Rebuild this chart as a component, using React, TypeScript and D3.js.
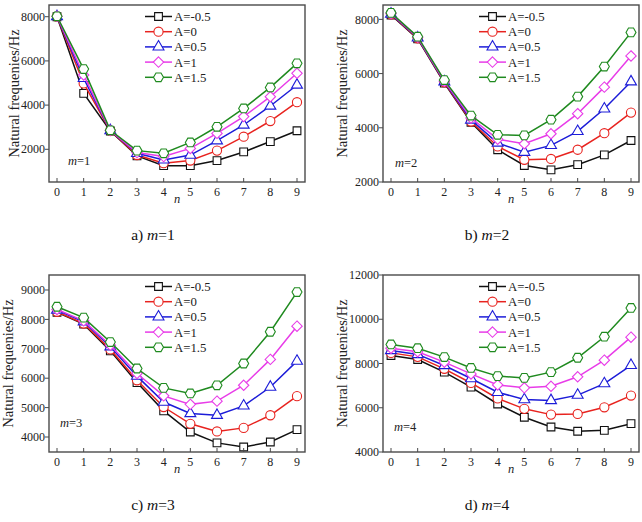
import React from "react";
import * as d3 from "d3";

// mode number n on the x axis
const nValues = [0, 1, 2, 3, 4, 5, 6, 7, 8, 9];
const seriesLabels = ["A=-0.5", "A=0", "A=0.5", "A=1", "A=1.5"];
const seriesColors = ["#111111", "#e8231f", "#1c1cd8", "#e83ce8", "#1f8a1f"];
const seriesShapes = ["square", "circle", "triangle", "diamond", "hexagon"];

// natural frequencies (Hz), one row per A value
const freqM1 = [
  [8000, 4530, 2830, 1700, 1260, 1260, 1490, 1880, 2350, 2840],
  [8000, 4980, 2840, 1740, 1370, 1490, 1940, 2570, 3280, 4130],
  [8010, 5210, 2850, 1820, 1520, 1740, 2390, 3100, 3960, 4910],
  [8020, 5360, 2850, 1850, 1670, 2040, 2720, 3480, 4380, 5440],
  [8020, 5630, 2860, 1940, 1820, 2310, 3020, 3850, 4800, 5890],
];
const freqM2 = [
  [8160, 7280, 5650, 4200, 3190, 2610, 2450, 2640, 3000, 3530],
  [8180, 7300, 5680, 4230, 3310, 2820, 2850, 3190, 3800, 4560],
  [8200, 7320, 5700, 4290, 3440, 3100, 3350, 3870, 4700, 5700],
  [8220, 7340, 5720, 4360, 3580, 3410, 3780, 4520, 5500, 6650],
  [8240, 7360, 5760, 4450, 3740, 3720, 4300, 5150, 6260, 7520],
];
const freqM3 = [
  [8240, 7840, 6930, 5850, 4890, 4170, 3800, 3660, 3830, 4250],
  [8260, 7860, 6980, 5930, 5020, 4450, 4190, 4310, 4740, 5390],
  [8320, 7920, 7070, 6070, 5190, 4800, 4740, 5060, 5700, 6580],
  [8340, 7950, 7120, 6160, 5400, 5110, 5220, 5760, 6640, 7770],
  [8430, 8060, 7230, 6330, 5670, 5480, 5760, 6500, 7580, 8930],
];
const freqM4 = [
  [8360, 8180, 7610, 6930, 6170, 5570, 5130, 4940, 4980, 5280],
  [8480, 8300, 7760, 7120, 6420, 5950, 5690, 5720, 6020, 6550],
  [8590, 8410, 7910, 7320, 6700, 6370, 6330, 6570, 7090, 7920],
  [8690, 8530, 8060, 7530, 7030, 6900, 6970, 7400, 8150, 9190],
  [8860, 8690, 8290, 7800, 7430, 7350, 7610, 8260, 9210, 10510],
];

const ticksM1 = [2000, 4000, 6000, 8000];
const ticksM2 = [2000, 4000, 6000, 8000];
const ticksM3 = [4000, 5000, 6000, 7000, 8000, 9000];
const ticksM4 = [4000, 6000, 8000, 10000, 12000];

const FONT = "'Liberation Serif', 'Times New Roman', serif";
const FRAME = "#4a4a4a";

function markerPath(shape: string): string {
  if (shape === "square") return d3.symbol(d3.symbolSquare, 60)()!;
  if (shape === "circle") return d3.symbol(d3.symbolCircle, 66)()!;
  if (shape === "triangle") return d3.symbol(d3.symbolTriangle, 52)()!;
  if (shape === "diamond") {
    const r = 5.2;
    return `M0,${-r}L${r},0L0,${r}L${-r},0Z`;
  }
  // hexagon
  const r = 5;
  const pts = d3.range(6).map((i) => {
    const a = (Math.PI / 3) * i;
    return [r * Math.cos(a), r * Math.sin(a)];
  });
  return "M" + pts.map((p) => p.join(",")).join("L") + "Z";
}

type PanelProps = {
  left: number;
  top: number;
  data: number[][];
  yDomain: [number, number];
  yTicks: number[];
  mLabel: string;
  mPos: [number, number];
  titleX: number;
  caption: string;
};

function Panel({ left, top, data, yDomain, yTicks, mLabel, mPos, titleX, caption }: PanelProps) {
  const w = 256;
  const h = 177;
  const x = d3.scaleLinear().domain([-0.3, 9.3]).range([0, w]);
  const y = d3.scaleLinear().domain(yDomain).range([h, 0]);
  const path = d3
    .line<number>()
    .x((_, i) => x(nValues[i]))
    .y((d) => y(d));

  return (
    <g transform={`translate(${left},${top})`}>
      {/* series */}
      {data.map((row, s) => (
        <g key={s}>
          <path d={path(row)!} fill="none" stroke={seriesColors[s]} strokeWidth={1.5} />
          {row.map((v, i) => (
            <path
              key={i}
              transform={`translate(${x(nValues[i])},${y(v)})`}
              d={markerPath(seriesShapes[s])}
              fill="#fff"
              stroke={seriesColors[s]}
              strokeWidth={1.1}
            />
          ))}
        </g>
      ))}

      {/* frame */}
      <rect x={0} y={0} width={w} height={h} fill="none" stroke={FRAME} strokeWidth={1.4} />

      {/* y axis */}
      {yTicks.map((t) => (
        <g key={t} transform={`translate(0,${y(t)})`}>
          <line x1={-4} x2={0} stroke={FRAME} strokeWidth={1} />
          <text x={-4} dy="0.35em" textAnchor="end" fontFamily={FONT} fontSize={12} fill="#222">
            {t}
          </text>
        </g>
      ))}
      <text
        transform={`translate(${-titleX},${h / 2}) rotate(-90)`}
        textAnchor="middle"
        dy="0.35em"
        fontFamily={FONT}
        fontSize={14.5}
        fill="#222"
      >
        Natural frequenies/Hz
      </text>

      {/* x axis */}
      {nValues.map((n) => (
        <g key={n} transform={`translate(${x(n)},${h})`}>
          <line y1={0} y2={-4} stroke={FRAME} strokeWidth={1} />
          <text y={14} textAnchor="middle" fontFamily={FONT} fontSize={12} fill="#222">
            {n}
          </text>
        </g>
      ))}
      <text x={w / 2} y={h + 21} textAnchor="middle" fontFamily={FONT} fontStyle="italic" fontSize={12.5} fill="#222">
        n
      </text>

      {/* m label */}
      <text x={mPos[0]} y={mPos[1]} fontFamily={FONT} fontSize={12.5} fill="#222">
        <tspan fontStyle="italic">m</tspan>={mLabel}
      </text>

      {/* legend */}
      {seriesLabels.map((lab, s) => {
        const ly = 11.5 + s * 15.2;
        return (
          <g key={lab} transform={`translate(96,${ly})`}>
            <line x1={0} x2={27} stroke={seriesColors[s]} strokeWidth={1.5} />
            <path transform="translate(13.5,0)" d={markerPath(seriesShapes[s])} fill="#fff" stroke={seriesColors[s]} strokeWidth={1.1} />
            <text x={29} dy="0.35em" fontFamily={FONT} fontSize={12.8} fill="#222">
              {lab}
            </text>
          </g>
        );
      })}

      {/* caption */}
      <text x={w / 2 - 24} y={h + 58} textAnchor="middle" fontFamily={FONT} fontSize={15.5} fill="#111">
        {caption}) <tspan fontStyle="italic">m</tspan>={mLabel}
      </text>
    </g>
  );
}

export default function App() {
  return (
    <svg
      width={642}
      height={522}
      style={{ position: "absolute", left: 0, top: 0, background: "#fff" }}
    >
      <Panel left={49} top={5} data={freqM1} yDomain={[520, 8530]} yTicks={ticksM1} mLabel="1" mPos={[19, 160]} titleX={35} caption="a" />
      <Panel left={383} top={5} data={freqM2} yDomain={[2000, 8530]} yTicks={ticksM2} mLabel="2" mPos={[12, 162]} titleX={41} caption="b" />
      <Panel left={49} top={275} data={freqM3} yDomain={[3490, 9510]} yTicks={ticksM3} mLabel="3" mPos={[11, 152]} titleX={41} caption="c" />
      <Panel left={383} top={275} data={freqM4} yDomain={[4000, 12000]} yTicks={ticksM4} mLabel="4" mPos={[11, 156]} titleX={41} caption="d" />
    </svg>
  );
}
